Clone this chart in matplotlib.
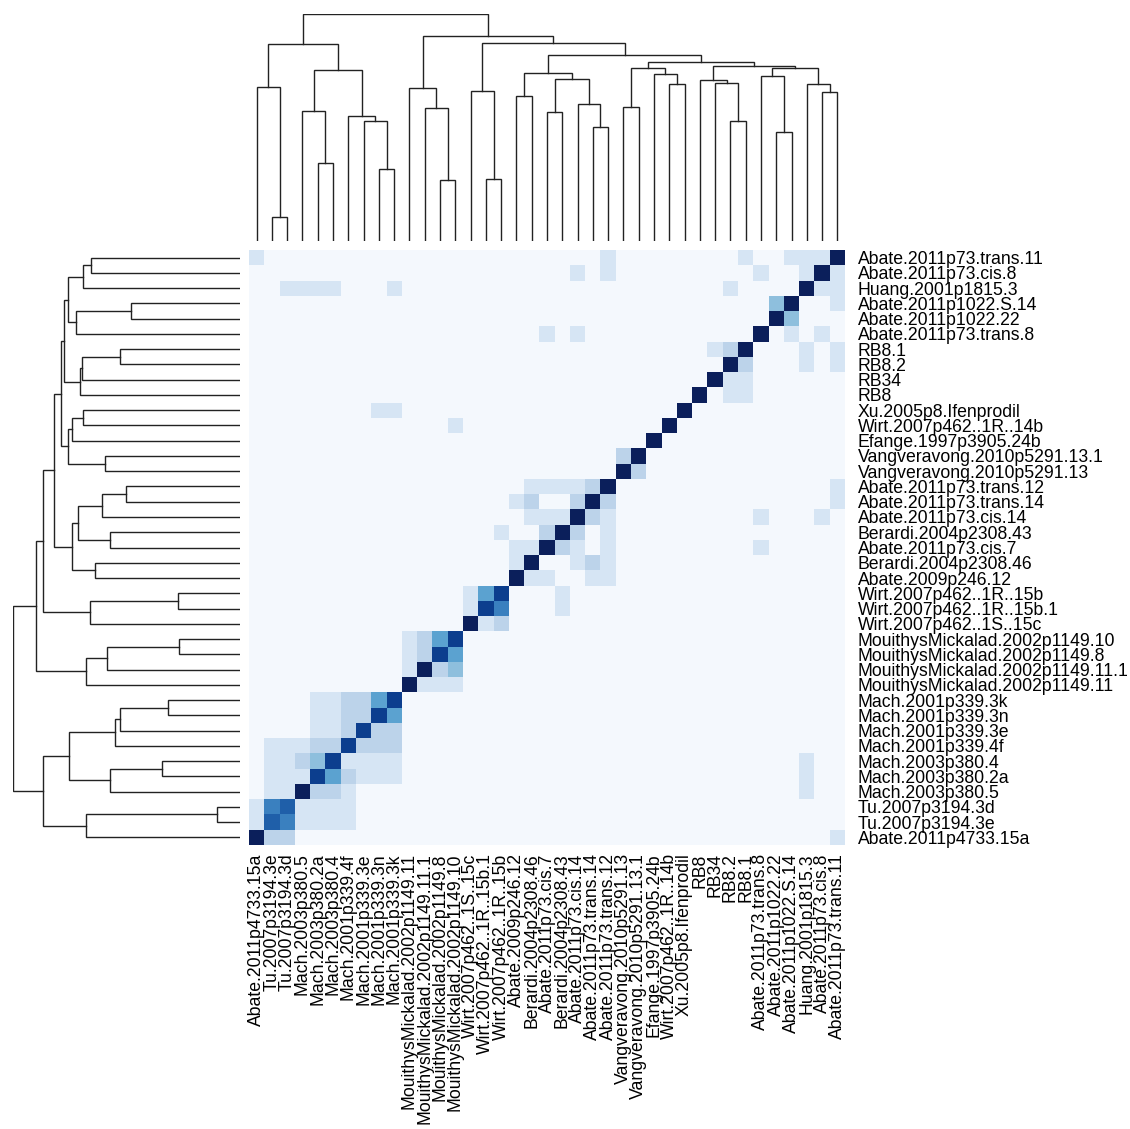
import numpy as np
import matplotlib.pyplot as plt
from matplotlib.colors import ListedColormap

plt.rcParams['font.family'] = ['Liberation Sans', 'DejaVu Sans']

# row order, top to bottom (columns use the reverse order, left to right)
row_labels = [
    'Abate.2011p73.trans.11', 'Abate.2011p73.cis.8', 'Huang.2001p1815.3',
    'Abate.2011p1022.S.14', 'Abate.2011p1022.22', 'Abate.2011p73.trans.8',
    'RB8.1', 'RB8.2', 'RB34', 'RB8', 'Xu.2005p8.Ifenprodil',
    'Wirt.2007p462..1R..14b', 'Efange.1997p3905.24b',
    'Vangveravong.2010p5291.13.1', 'Vangveravong.2010p5291.13',
    'Abate.2011p73.trans.12', 'Abate.2011p73.trans.14', 'Abate.2011p73.cis.14',
    'Berardi.2004p2308.43', 'Abate.2011p73.cis.7', 'Berardi.2004p2308.46',
    'Abate.2009p246.12', 'Wirt.2007p462..1R..15b', 'Wirt.2007p462..1R..15b.1',
    'Wirt.2007p462..1S..15c', 'MouithysMickalad.2002p1149.10',
    'MouithysMickalad.2002p1149.8', 'MouithysMickalad.2002p1149.11.1',
    'MouithysMickalad.2002p1149.11', 'Mach.2001p339.3k', 'Mach.2001p339.3n',
    'Mach.2001p339.3e', 'Mach.2001p339.4f', 'Mach.2003p380.4',
    'Mach.2003p380.2a', 'Mach.2003p380.5', 'Tu.2007p3194.3d',
    'Tu.2007p3194.3e', 'Abate.2011p4733.15a',
]
col_labels = row_labels[::-1]

# similarity level per cell (0 = none, 8 = max), one string per row
sim_rows = [
    "1000000000" "0000000000" "0001000000" "001001118",
    "0000000000" "0000000000" "0101000000" "000100181",
    "0011110001" "0000000000" "0000000000" "010000811",
    "0000000000" "0000000000" "0000000000" "000038001",
    "0000000000" "0000000000" "0000000000" "000083000",
    "0000000000" "0000000001" "0100000000" "000801010",
    "0000000000" "0000000000" "0000000000" "128000101",
    "0000000000" "0000000000" "0000000000" "082000101",
    "0000000000" "0000000000" "0000000000" "811000000",
    "0000000000" "0000000000" "0000000008" "011000000",
    "0000000011" "0000000000" "0000000080" "000000000",
    "0000000000" "0001000000" "0000000800" "000000000",
    "0000000000" "0000000000" "0000008000" "000000000",
    "0000000000" "0000000000" "0000280000" "000000000",
    "0000000000" "0000000000" "0000820000" "000000000",
    "0000000000" "0000000011" "1128000000" "000000001",
    "0000000000" "0000000120" "0282000000" "000000001",
    "0000000000" "0000000011" "1821000000" "000100010",
    "0000000000" "0000001002" "8201000000" "000000000",
    "0000000000" "0000000118" "2101000000" "000100000",
    "0000000000" "0000000180" "0121000000" "000000000",
    "0000000000" "0000000811" "0011000000" "000000000",
    "0000000000" "0000147000" "1000000000" "000000000",
    "0000000000" "0000175000" "1000000000" "000000000",
    "0000000000" "0000812000" "0000000000" "000000000",
    "0000000000" "1247000000" "0000000000" "000000000",
    "0000000000" "1274000000" "0000000000" "000000000",
    "0000000000" "1823000000" "0000000000" "000000000",
    "0000000000" "8111000000" "0000000000" "000000000",
    "0000112247" "0000000000" "0000000000" "000000000",
    "0000112274" "0000000000" "0000000000" "000000000",
    "0000112722" "0000000000" "0000000000" "000000000",
    "0111227222" "0000000000" "0000000000" "000000000",
    "0112371111" "0000000000" "0000000000" "000000100",
    "0111742111" "0000000000" "0000000000" "000000100",
    "0118221000" "0000000000" "0000000000" "000000100",
    "1561111000" "0000000000" "0000000000" "000000000",
    "1651111000" "0000000000" "0000000000" "000000000",
    "8220000000" "0000000000" "0000000000" "000000001",
]

level_colors = ['#f4f8fd', '#d6e5f4', '#bcd3ea', '#8ebfdd', '#5ba2d0',
                '#3a80bf', '#1f5fa9', '#0c3e8e', '#0b1f5b']

# merges as (a, b, height); ids >= 39 point to earlier merges (39 + k)
col_merges = [
    (1, 2, 0.105), (0, 39, 0.679), (4, 5, 0.344), (3, 41, 0.572),
    (8, 9, 0.316), (7, 43, 0.528), (6, 44, 0.551), (42, 45, 0.753),
    (40, 46, 0.868), (12, 13, 0.268), (11, 48, 0.585), (10, 49, 0.675),
    (15, 16, 0.272), (14, 51, 0.662), (17, 18, 0.640), (19, 20, 0.569),
    (22, 23, 0.503), (21, 55, 0.604), (54, 56, 0.713), (53, 57, 0.740),
    (24, 25, 0.591), (27, 28, 0.690), (26, 60, 0.737), (59, 61, 0.760),
    (31, 32, 0.528), (30, 63, 0.697), (29, 64, 0.708), (34, 35, 0.478),
    (33, 66, 0.725), (37, 38, 0.655), (36, 68, 0.690), (67, 69, 0.760),
    (65, 70, 0.772), (62, 71, 0.788), (58, 72, 0.819), (52, 73, 0.871),
    (50, 74, 0.903), (47, 75, 1.000),
]
row_merges = [
    (0, 1, 0.656), (39, 2, 0.691), (3, 4, 0.478), (41, 5, 0.723),
    (40, 42, 0.758), (6, 7, 0.527), (44, 8, 0.696), (45, 9, 0.704),
    (43, 46, 0.773), (10, 11, 0.689), (48, 12, 0.738), (13, 14, 0.593),
    (49, 50, 0.758), (47, 51, 0.788), (15, 16, 0.502), (53, 17, 0.606),
    (18, 19, 0.571), (54, 55, 0.711), (20, 21, 0.639), (56, 57, 0.739),
    (52, 58, 0.818), (22, 23, 0.271), (60, 24, 0.660), (59, 61, 0.865),
    (25, 26, 0.267), (63, 27, 0.585), (64, 28, 0.676), (62, 65, 0.899),
    (29, 30, 0.315), (67, 31, 0.528), (68, 32, 0.550), (33, 34, 0.343),
    (70, 35, 0.571), (69, 71, 0.751), (36, 37, 0.103), (73, 38, 0.678),
    (72, 74, 0.865), (66, 75, 1.000),
]


def dendro_segments(merges, n):
    pos = {i: i + 0.5 for i in range(n)}
    hgt = {i: 0.0 for i in range(n)}
    segs = []
    for k, (a, b, h) in enumerate(merges):
        segs.append(([pos[a], pos[a], pos[b], pos[b]], [hgt[a], h, h, hgt[b]]))
        pos[n + k] = (pos[a] + pos[b]) / 2
        hgt[n + k] = h
    return segs


n = len(row_labels)
data = np.array([[int(c) for c in r] for r in sim_rows])

W, H = 1130, 1129
fig = plt.figure(figsize=(W / 100, H / 100), dpi=100)

def px_axes(x0, y0, x1, y1):
    return fig.add_axes([x0 / W, 1 - y1 / H, (x1 - x0) / W, (y1 - y0) / H])

# heatmap
ax = px_axes(249, 250, 845, 845)
ax.pcolormesh(np.arange(n + 1), np.arange(n + 1), data,
              cmap=ListedColormap(level_colors), vmin=-0.5, vmax=8.5)
ax.set_xlim(0, n)
ax.set_ylim(n, 0)
for s in ax.spines.values():
    s.set_visible(False)
ax.yaxis.tick_right()
ax.set_yticks(np.arange(n) + 0.5)
ax.set_yticklabels(row_labels, fontsize=12.7)
ax.set_xticks(np.arange(n) + 0.5)
ax.set_xticklabels(col_labels, fontsize=12.7, rotation=90)
ax.tick_params(axis='y', length=0, pad=9)
ax.tick_params(axis='x', length=0, pad=6)

# column dendrogram
axt = px_axes(249, 14, 845, 240.7)
for xs, ys in dendro_segments(col_merges, n):
    axt.plot(xs, ys, color='#222222', lw=1.0, solid_joinstyle='miter')
axt.set_xlim(0, n)
axt.set_ylim(0, 1)
axt.axis('off')

# row dendrogram
axl = px_axes(12.7, 250, 240, 845)
for ys, xs in dendro_segments(row_merges, n):
    axl.plot(xs, ys, color='#222222', lw=1.0, solid_joinstyle='miter')
axl.set_xlim(1, 0)
axl.set_ylim(n, 0)
axl.axis('off')

fig.savefig('out.png', dpi=100)
